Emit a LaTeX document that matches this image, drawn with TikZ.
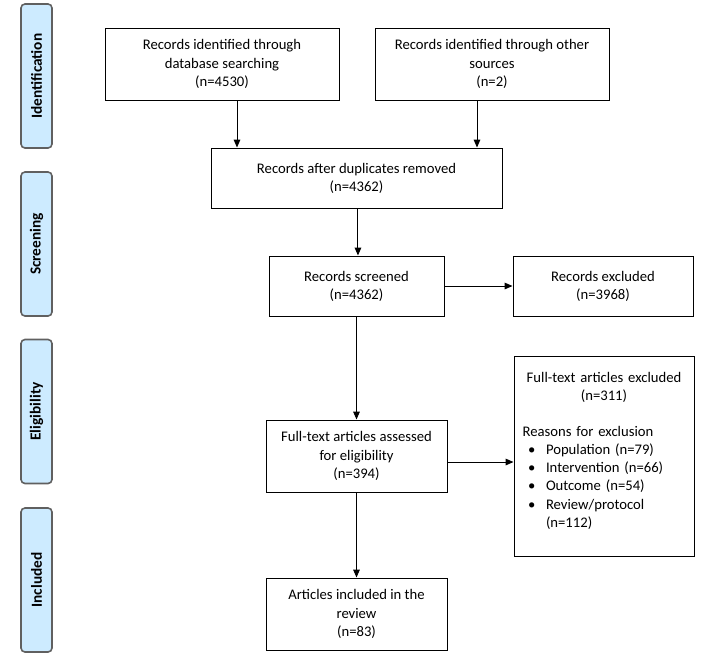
\documentclass[tikz,border=0pt]{standalone}
\usepackage{fontspec}
\setmainfont{Carlito}
\usetikzlibrary{arrows.meta}

\tikzset{every picture/.style={line width=0.75pt}}
\tikzset{
  flowbox/.style={draw, fill=white, align=center, inner sep=0pt, font=\fontsize{11}{13.6}\selectfont},
  sidebox/.style={draw={rgb, 255:red, 96; green, 96; blue, 96 }, line width=1.2pt, rounded corners=3pt,
    fill={rgb, 255:red, 205; green, 235; blue, 255 }, minimum width=108pt, minimum height=23.25pt,
    inner sep=0pt, rotate=90, font=\bfseries\fontsize{11.5}{13}\selectfont},
  flowarrow/.style={-{Triangle[length=6pt,width=5pt]}},
}

\begin{document}
\begin{tikzpicture}[x=0.75pt,y=0.75pt,yscale=-1,xscale=1]
\path[use as bounding box] (0,0) rectangle (714,658); %set diagram to 714 x 658

%Side labels
\node[sidebox] (ident) at (36.5,76) {Identification};
\node[sidebox] (screen) at (36.5,244) {Screening};
\node[sidebox] (elig) at (36.5,411.5) {Eligibility};
\node[sidebox] (incl) at (36.5,580) {Included};

%Shape: Rectangle
\node[flowbox, minimum width=175.5pt, minimum height=54pt] (dbsearch) at (222,64) {Records identified through\\database searching\\(n=4530)};
%Shape: Rectangle
\node[flowbox, minimum width=175.5pt, minimum height=54pt] (othersrc) at (492,64) {Records identified through other\\sources\\(n=2)};
%Shape: Rectangle
\node[flowbox, minimum width=218.25pt, minimum height=45pt] (dupes) at (356.5,178) {Records after duplicates removed\\(n=4362)};
%Shape: Rectangle
\node[flowbox, minimum width=131.25pt, minimum height=45pt] (screened) at (356.5,286) {Records screened\\(n=4362)};
%Shape: Rectangle
\node[flowbox, minimum width=135pt, minimum height=45pt] (excluded) at (603,286) {Records excluded\\(n=3968)};
%Shape: Rectangle
\node[flowbox, minimum width=135.75pt, minimum height=54pt] (fulltext) at (356.5,456) {Full-text articles assessed\\for eligibility\\(n=394)};
%Shape: Rectangle
\node[flowbox, minimum width=135pt, minimum height=150pt, text width=122pt, align=left] (ftexcl) at (604,456) {{\centering Full-text articles excluded\\(n=311)\par}
\vspace{13.5pt}
Reasons for exclusion\\
\hspace*{4pt}\makebox[13.5pt][l]{\textbullet}Population (n=79)\\
\hspace*{4pt}\makebox[13.5pt][l]{\textbullet}Intervention (n=66)\\
\hspace*{4pt}\makebox[13.5pt][l]{\textbullet}Outcome (n=54)\\
\hspace*{4pt}\makebox[13.5pt][l]{\textbullet}Review/protocol\\
\hspace*{17.5pt}(n=112)\\[-4pt]\mbox{}};
%Shape: Rectangle
\node[flowbox, minimum width=135.75pt, minimum height=54pt] (included) at (356.5,614) {Articles included in the\\review\\(n=83)};

%Straight Lines
\draw[flowarrow] ([xshift=11.25pt]dbsearch.south) -- ([xshift=11.25pt]dbsearch.south |- dupes.north);
\draw[flowarrow] ([xshift=-11.25pt]othersrc.south) -- ([xshift=-11.25pt]othersrc.south |- dupes.north);
\draw[flowarrow] ([xshift=1.1pt]dupes.south) -- ([xshift=1.1pt]dupes.south |- screened.north);
\draw[flowarrow] (screened.east) -- (excluded.west);
\draw[flowarrow] (screened.south) -- (fulltext.north);
\draw[flowarrow] ([yshift=4.5pt]fulltext.east) -- ([yshift=4.5pt]fulltext.east -| ftexcl.west);
\draw[flowarrow] (fulltext.south) -- (included.north);

\end{tikzpicture}
\end{document}
